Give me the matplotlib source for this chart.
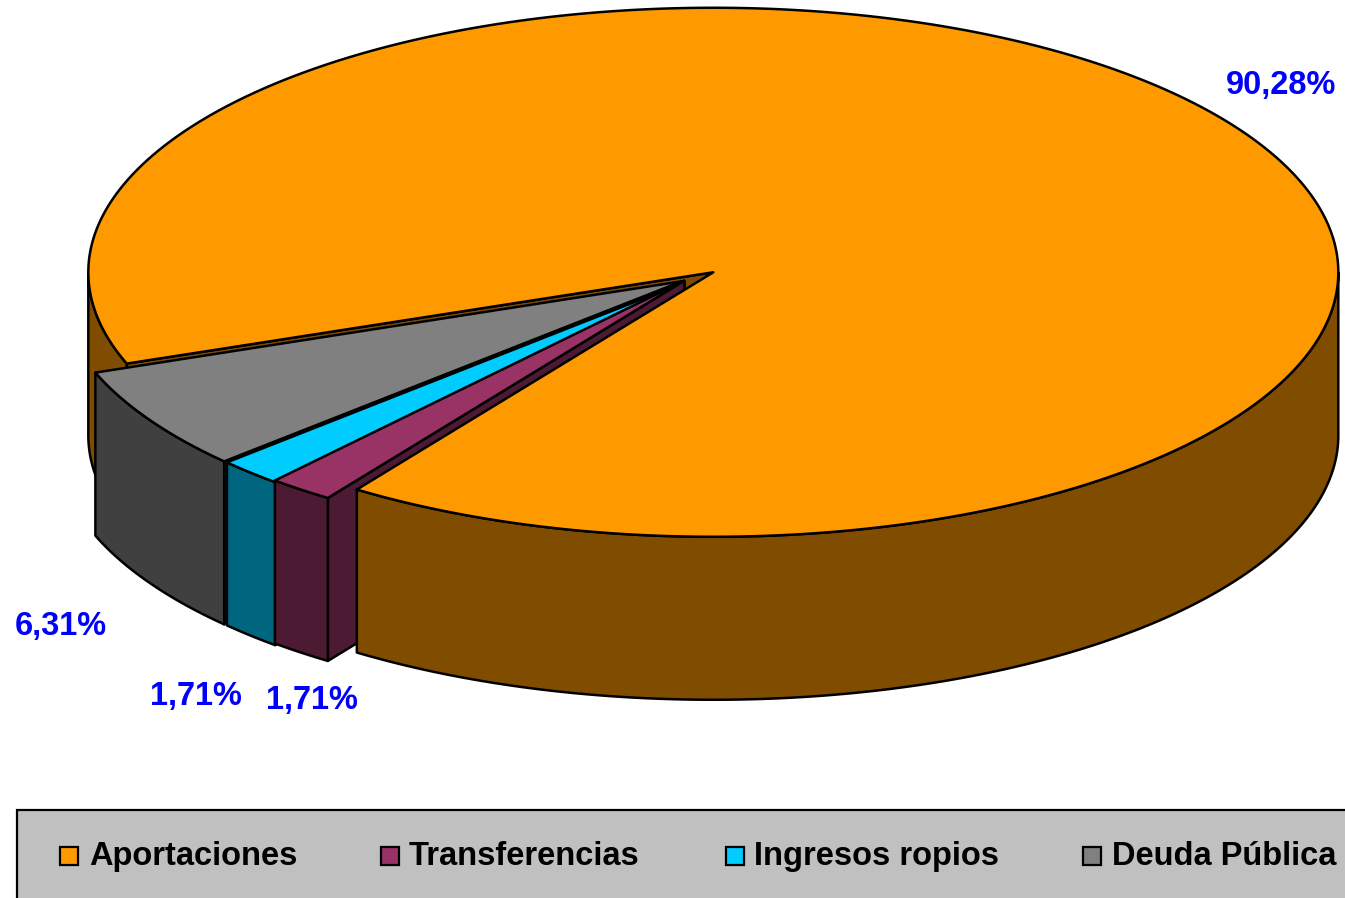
import numpy as np
import matplotlib
matplotlib.use('Agg')
import matplotlib.pyplot as plt
from matplotlib.patches import Polygon, Rectangle

plt.rcParams['font.family'] = ['Liberation Sans', 'DejaVu Sans']

# Données
categories = ['Aportaciones', 'Transferencias', 'Ingresos ropios', 'Deuda Pública']
values = [90.28, 1.71, 1.71, 6.31]
value_labels = ['90,28%', '1,71%', '1,71%', '6,31%']
top_colors = ['#FF9900', '#993366', '#00CCFF', '#808080']
side_colors = ['#804D00', '#4D1A33', '#006680', '#404040']

# Géométrie du camembert (pixels de l'image)
CX, CY = 697, 276.5
RX, RY = 625, 264.5
DEPTH = 163
EXPLODE_X, EXPLODE_Y = 0.033, 0.02
NUDGE = [(0, -1), (0, 0), (2, 2), (2.5, 2)]  # petit décalage par part
START = 69.8  # angle de départ, horaire depuis le bas
LW = 1.8
FONT_SIZE = 23.5


def rim(center, theta):
    theta = np.radians(theta)
    return np.column_stack([center[0] - RX * np.sin(theta),
                            center[1] + RY * np.cos(theta)])


def arc(center, a, b):
    return rim(center, np.linspace(a, b, max(int(abs(b - a) * 2), 2) + 1))


def draw_poly(ax, pts, color, z):
    ax.add_patch(Polygon(pts, closed=True, facecolor=color, edgecolor='black',
                         linewidth=LW, joinstyle='round', zorder=z))


def draw_wall(ax, center, a, b, color, z):
    top = arc(center, a, b)
    draw_poly(ax, np.vstack([top, top[::-1] + [0, DEPTH]]), color, z)


def draw_cut(ax, center, theta, color, z):
    # Face coupée : du centre vers le bord, vue par-dessous
    edge = np.vstack([[center], rim(center, theta)])
    draw_poly(ax, np.vstack([edge, edge[::-1] + [0, DEPTH]]), color, z)


fig = plt.figure(figsize=(13.45, 8.98), dpi=100)
ax = fig.add_axes([0, 0, 1, 1])
ax.set_xlim(0, 1345)
ax.set_ylim(898, 0)
ax.axis('off')

sweeps = np.array(values) / sum(values) * 360
starts = START + np.concatenate([[0], np.cumsum(sweeps)[:-1]])
ends = starts + sweeps
mids = (starts + ends) / 2

centers = []
for m, (nx, ny) in zip(mids, NUDGE):
    t = np.radians(m)
    centers.append((CX - EXPLODE_X * RX * np.sin(t) + nx,
                    CY + EXPLODE_Y * RY * np.cos(t) + ny))

# Part principale : faces arrière d'abord
draw_cut(ax, centers[0], starts[0], side_colors[0], 1)
draw_wall(ax, centers[0], starts[0], 90, side_colors[0], 1)

# Petites parts, de la plus éloignée à la plus proche
for i in [3, 2, 1]:
    z = 2 + (3 - i) * 0.1
    draw_cut(ax, centers[i], starts[i], side_colors[i], z)
    draw_wall(ax, centers[i], starts[i], ends[i], side_colors[i], z)
    draw_poly(ax, np.vstack([[centers[i]], arc(centers[i], starts[i], ends[i])]),
              top_colors[i], z + 0.05)

# Part principale : face avant et dessus
draw_wall(ax, centers[0], 270, ends[0], side_colors[0], 3)
draw_poly(ax, np.vstack([[centers[0]], arc(centers[0], starts[0], ends[0])]),
          top_colors[0], 3.1)

# Étiquettes
label_pos = [(1281.5, 94), (312, 709), (196, 705), (61, 635)]
for (x, y), txt in zip(label_pos, value_labels):
    ax.text(x, y, txt, color='#0000FF', fontsize=FONT_SIZE, fontweight='bold',
            ha='center', va='baseline', zorder=5)

# Légende
ax.add_patch(Rectangle((17, 810), 1400, 120, facecolor='#C0C0C0', edgecolor='black',
                       linewidth=1.6, zorder=4))
swatch_x = [60, 381, 726, 1083]
text_x = [89, 409, 754, 1112]
for sx, tx, name, col in zip(swatch_x, text_x, categories, top_colors):
    ax.add_patch(Rectangle((sx, 847), 18, 18, facecolor=col, edgecolor='black',
                           linewidth=1.6, zorder=5))
    ax.text(tx, 865, name, fontsize=FONT_SIZE, fontweight='bold', color='black',
            ha='left', va='baseline', zorder=5)

fig.savefig('out.png', dpi=100)
